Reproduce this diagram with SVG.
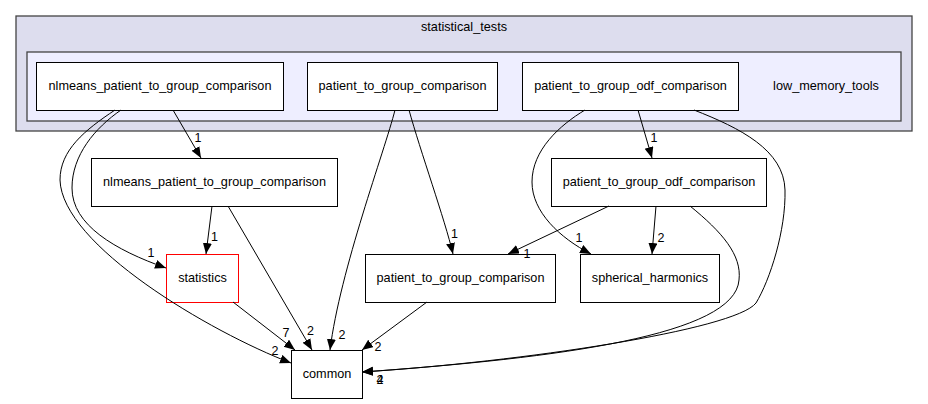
<svg xmlns="http://www.w3.org/2000/svg" width="928" height="404" viewBox="0 0 928 404">
<style>
text{font-family:"Liberation Sans",Arial,sans-serif;fill:#000}
.n{font-size:12.7px;text-anchor:middle}
.l{font-size:12.5px;text-anchor:middle}
.box{fill:#fff;stroke:#000;stroke-width:1}
.e{fill:none;stroke:#000;stroke-width:1}
</style>
<defs>
<marker id="ah" markerUnits="userSpaceOnUse" markerWidth="12" markerHeight="10" refX="11" refY="4.5" orient="auto">
<path d="M0,0 L11,4.5 L0,9 z" fill="#000"/>
</marker>
</defs>
<g id="cluster_statistical_tests">
<rect x="16" y="16" width="896" height="115" fill="#ddddee" stroke="#444" stroke-width="1.3"/>
<text class="n" x="464" y="31">statistical_tests</text>
</g>
<g id="cluster_low_memory_tools">
<rect x="27" y="52" width="874" height="69" fill="#eeeeff" stroke="#444" stroke-width="1.3"/>
<text class="n" x="826" y="90">low_memory_tools</text>
</g>
<g id="node_nlmeans_top">
<rect class="box" x="36.5" y="62.5" width="247" height="48"/>
<text class="n" x="160" y="90">nlmeans_patient_to_group_comparison</text>
</g>
<g id="node_p2g_top">
<rect class="box" x="307.5" y="62.5" width="190" height="48"/>
<text class="n" x="402.5" y="90">patient_to_group_comparison</text>
</g>
<g id="node_odf_top">
<rect class="box" x="522.5" y="62.5" width="216" height="48"/>
<text class="n" x="630.5" y="90">patient_to_group_odf_comparison</text>
</g>
<g id="node_nlmeans_mid">
<rect class="box" x="91.5" y="158.5" width="246" height="48"/>
<text class="n" x="214.5" y="186">nlmeans_patient_to_group_comparison</text>
</g>
<g id="node_odf_mid">
<rect class="box" x="551.5" y="158.5" width="215" height="48"/>
<text class="n" x="659" y="186">patient_to_group_odf_comparison</text>
</g>
<g id="node_statistics">
<rect x="166.5" y="254.5" width="72" height="48" fill="#fff" stroke="#ff0000" stroke-width="1"/>
<text class="n" x="202.5" y="282">statistics</text>
</g>
<g id="node_p2g_mid">
<rect class="box" x="365.5" y="254.5" width="190" height="48"/>
<text class="n" x="460.5" y="282">patient_to_group_comparison</text>
</g>
<g id="node_spherical_harmonics">
<rect class="box" x="580.5" y="254.5" width="139" height="48"/>
<text class="n" x="650" y="282">spherical_harmonics</text>
</g>
<g id="node_common">
<rect class="box" x="291.5" y="350.5" width="71" height="48"/>
<text class="n" x="327" y="378">common</text>
</g>
<g id="connectors">
<path class="e" marker-end="url(#ah)" d="M173,110 L201,158"/>
<path class="e" marker-end="url(#ah)" d="M121,110 C95,128 72,155 72,188 C72,225 115,250 166,268"/>
<path class="e" marker-end="url(#ah)" d="M115,110 C85,130 60,150 60,180 C62,245 210,332 291,363"/>
<path class="e" marker-end="url(#ah)" d="M212,206 L206,254"/>
<path class="e" marker-end="url(#ah)" d="M228,206 L312,350"/>
<path class="e" marker-end="url(#ah)" d="M233,302 L295,350"/>
<path class="e" marker-end="url(#ah)" d="M395,110 C385,150 340,270 330,350"/>
<path class="e" marker-end="url(#ah)" d="M409,110 C420,150 445,220 453,254"/>
<path class="e" marker-end="url(#ah)" d="M427,302 L362,350"/>
<path class="e" marker-end="url(#ah)" d="M638,110 L652,158"/>
<path class="e" marker-end="url(#ah)" d="M585,110 C560,125 532,150 532,182 C532,212 560,238 591,254"/>
<path class="e" marker-end="url(#ah)" d="M694,110 C740,128 784,150 785,190 C786,230 770,280 756,303 C735,330 520,362 362,372"/>
<path class="e" marker-end="url(#ah)" d="M609,206 L508,254"/>
<path class="e" marker-end="url(#ah)" d="M656,206 L652,254"/>
<path class="e" marker-end="url(#ah)" d="M690,206 C722,232 742,255 739,280 C735,335 560,358 362,372"/>
<text class="l" x="198" y="142">1</text>
<text class="l" x="151" y="257">1</text>
<text class="l" x="214.5" y="241">1</text>
<text class="l" x="275" y="355">2</text>
<text class="l" x="286" y="337">7</text>
<text class="l" x="310.5" y="334.5">2</text>
<text class="l" x="342" y="338.5">2</text>
<text class="l" x="378" y="350.5">2</text>
<text class="l" x="380" y="383.5">2</text>
<text class="l" x="380" y="383.5">4</text>
<text class="l" x="454.5" y="238">1</text>
<text class="l" x="527" y="258">1</text>
<text class="l" x="579" y="241.5">1</text>
<text class="l" x="661" y="241.5">2</text>
<text class="l" x="654" y="142">1</text>
</g>
</svg>
